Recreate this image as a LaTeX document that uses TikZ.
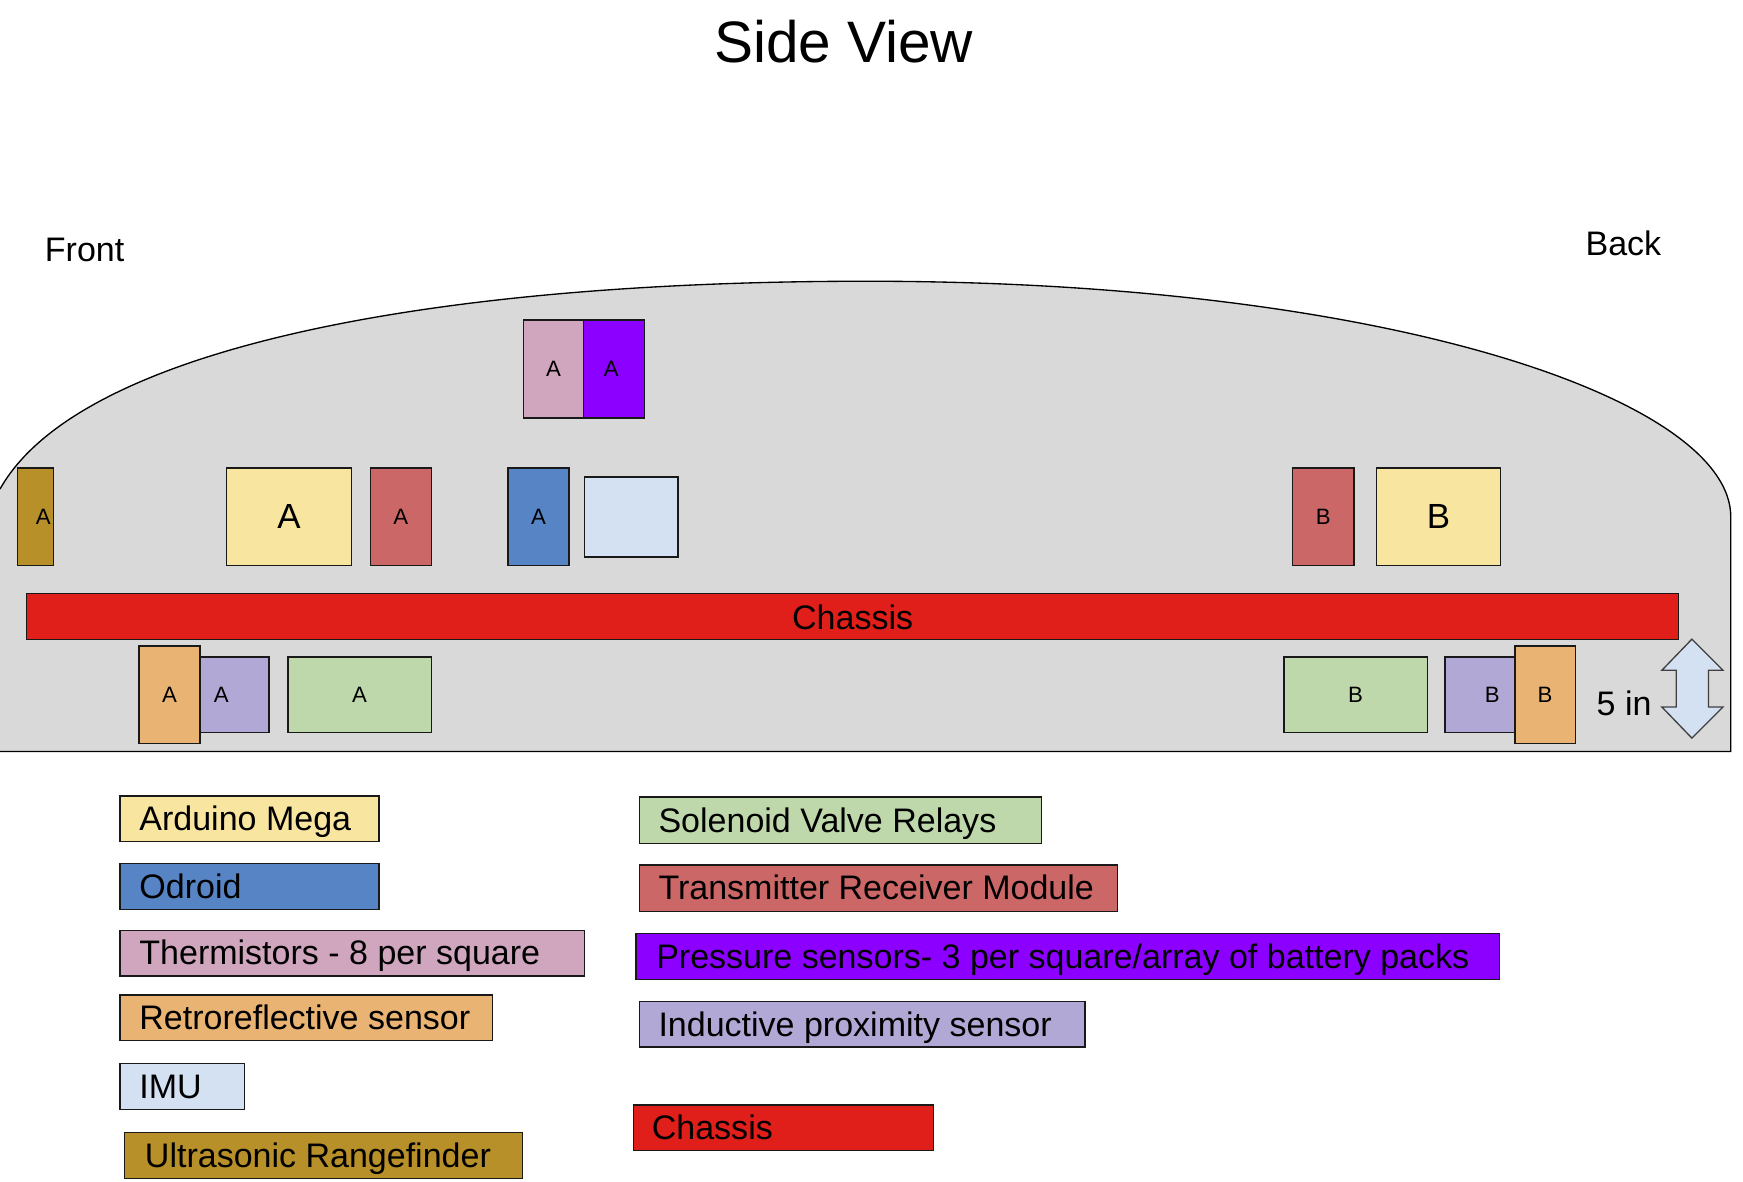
\documentclass[tikz,border=0pt]{standalone}
\usepackage{fontspec}
\setmainfont{Liberation Sans}
\definecolor{hullgray}{HTML}{D9D9D9}
\definecolor{ardy}{HTML}{F8E5A0}
\definecolor{odb}{HTML}{5784C4}
\definecolor{thp}{HTML}{CFA6BE}
\definecolor{reto}{HTML}{E9B373}
\definecolor{imub}{HTML}{D4E1F2}
\definecolor{ultr}{HTML}{B8902A}
\definecolor{solg}{HTML}{BED8AB}
\definecolor{trr}{HTML}{CC6767}
\definecolor{prp}{HTML}{8B00FF}
\definecolor{indl}{HTML}{B2A8D5}
\definecolor{chr}{HTML}{E11F1A}
\newcommand\mkpart[6]{%
  \node[part, fill=#6, minimum width={(#4-#2)*0.5pt}, minimum height={(#5-#3)*0.5pt}] (#1) at (#2,#3) {};}
\begin{document}
\begin{tikzpicture}[x=0.5pt,y=-0.5pt,
  part/.style={draw=black!90, line width=0.6pt, inner sep=0pt, outer sep=0pt, anchor=north west},
  small/.style={font=\fontsize{10pt}{12pt}\selectfont, inner sep=0pt},
  big/.style={font=\fontsize{15.7pt}{18pt}\selectfont, inner sep=0pt},
  legtxt/.style={font=\fontsize{15.3pt}{18pt}\selectfont, inner sep=0pt, anchor=base west},
  plain/.style={font=\fontsize{15.3pt}{18pt}\selectfont, inner sep=0pt}]
\useasboundingbox (0,0) rectangle (1568,1063);
% hull
\fill[hullgray] (0,676) -- (0,440) .. controls (70,315) and (380,253) .. (780,253)
  .. controls (1250,253) and (1557,360) .. (1557,465) -- (1557,676) -- cycle;
\draw[line width=0.6pt] (0,440) .. controls (70,315) and (380,253) .. (780,253)
  .. controls (1250,253) and (1557,360) .. (1557,465) -- (1557,676) -- (0,676);
% titles
\node[font=\fontsize{26.3pt}{30pt}\selectfont, inner sep=0pt, anchor=base] (title) at (759,56) {Side View};
\node[plain, anchor=base west] (front) at (40,235) {Front};
\node[plain, anchor=base west] (back) at (1426,230) {Back};
\node[plain, anchor=base west] (five) at (1436,644) {5 in};
% chassis bar
\mkpart{chassis}{24}{534}{1510}{575}{chr}
\node[plain] (chassisT) at (767,555) {Chassis};
% top row parts
\mkpart{thA}{471}{288}{525}{376}{thp}
\node[small] (thAT) at (498,332) {A};
\mkpart{prA}{525}{288}{580}{376}{prp}
\node[small] (prAT) at (550,332) {A};
% middle row
\mkpart{usA}{16}{421}{48}{509}{ultr}
\node[small] (usAT) at (39,465) {A};
\mkpart{arA}{204}{421}{316}{509}{ardy}
\node[big] (arAT) at (260,465) {A};
\mkpart{trA}{333}{421}{388}{509}{trr}
\node[small] (trAT) at (360.5,465) {A};
\mkpart{odA}{457}{421}{512}{509}{odb}
\node[small] (odAT) at (484.5,465) {A};
\mkpart{imu}{526}{429}{610}{501}{imub}
\mkpart{trB}{1163}{421}{1218}{509}{trr}
\node[small] (trBT) at (1190.5,465) {B};
\mkpart{arB}{1238}{421}{1350}{509}{ardy}
\node[big] (arBT) at (1294,465) {B};
% bottom row
\mkpart{inA}{156}{591}{242}{659}{indl}
\node[small] (inAT) at (199,625) {A};
\mkpart{reA}{125}{581}{180}{669}{reto}
\node[small] (reAT) at (152.5,625) {A};
\mkpart{svA}{259}{591}{388}{659}{solg}
\node[small] (svAT) at (323.5,625) {A};
\mkpart{svB}{1155}{591}{1284}{659}{solg}
\node[small] (svBT) at (1219.5,625) {B};
\mkpart{inB}{1300}{591}{1385}{659}{indl}
\node[small] (inBT) at (1342.5,625) {B};
\mkpart{reB}{1363}{581}{1417}{669}{reto}
\node[small] (reBT) at (1390,625) {B};
% 5 in arrow
\draw[fill=imub, draw=black!75, line width=0.6pt, line join=miter]
  (1522,575) -- (1550,603) -- (1537,603) -- (1537,636) -- (1550,636) -- (1522,664)
  -- (1495,636) -- (1508,636) -- (1508,603) -- (1495,603) -- cycle;
% legend left
\mkpart{lgArd}{108}{716}{341}{757}{ardy}
\node[legtxt] (lgArdT) at (125,747) {Arduino Mega};
\mkpart{lgOdr}{108}{777}{341}{818}{odb}
\node[legtxt] (lgOdrT) at (125,808) {Odroid};
\mkpart{lgThm}{108}{837}{526}{878}{thp}
\node[legtxt] (lgThmT) at (125,868) {Thermistors - 8 per square};
\mkpart{lgRet}{108}{895}{443}{936}{reto}
\node[legtxt] (lgRetT) at (125,926) {Retroreflective sensor};
\mkpart{lgImu}{108}{957}{220}{998}{imub}
\node[legtxt] (lgImuT) at (125,988) {IMU};
\mkpart{lgUlt}{112}{1019}{470}{1060}{ultr}
\node[legtxt] (lgUltT) at (130,1050) {Ultrasonic Rangefinder};
% legend right
\mkpart{lgSol}{575}{717}{937}{759}{solg}
\node[legtxt] (lgSolT) at (592,748.5) {Solenoid Valve Relays};
\mkpart{lgTr}{575}{778}{1005}{820}{trr}
\node[legtxt] (lgTrT) at (592,809.5) {Transmitter Receiver Module};
\mkpart{lgPrs}{572}{840}{1349}{881}{prp}
\node[legtxt] (lgPrsT) at (590,871) {Pressure sensors- 3 per square/array of battery packs};
\mkpart{lgInd}{575}{901}{976}{942}{indl}
\node[legtxt] (lgIndT) at (592,932) {Inductive proximity sensor};
\mkpart{lgChs}{570}{994}{840}{1035}{chr}
\node[legtxt] (lgChsT) at (586,1025) {Chassis};
\end{tikzpicture}
\end{document}
